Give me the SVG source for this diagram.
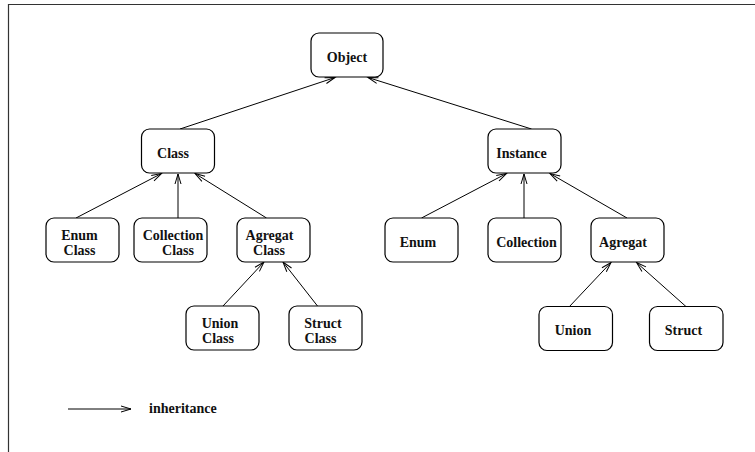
<svg xmlns="http://www.w3.org/2000/svg" width="755" height="452" viewBox="0 0 755 452">
<style>
.box{fill:#fff;stroke:#000;stroke-width:1.2}
.lbl{font-family:"Liberation Serif","Times New Roman",serif;font-weight:bold;font-size:14px;fill:#111;text-anchor:middle}
.edge{stroke:#000;stroke-width:1;fill:none;marker-end:url(#arr)}
</style>
<defs>
<marker id="arr" markerUnits="userSpaceOnUse" markerWidth="14" markerHeight="10" refX="11" refY="4" orient="auto">
<path d="M1,1 L11,4 L1,7" fill="none" stroke="#000" stroke-width="1"/>
</marker>
</defs>
<rect width="755" height="452" fill="#fff"/>
<path d="M8.5,452 V4.5 H755" fill="none" stroke="#333" stroke-width="1.2"/>
<g id="connectors">
<line class="edge" x1="180" y1="129" x2="335" y2="77.5"/>
<line class="edge" x1="531.5" y1="129" x2="368" y2="77.5"/>
<line class="edge" x1="76" y1="218" x2="161.5" y2="173.5"/>
<line class="edge" x1="178" y1="218" x2="178" y2="174"/>
<line class="edge" x1="266.5" y1="218" x2="195" y2="173.5"/>
<line class="edge" x1="223" y1="306" x2="264" y2="262"/>
<line class="edge" x1="317.5" y1="306" x2="283" y2="262"/>
<line class="edge" x1="421.5" y1="218" x2="506.5" y2="173.5"/>
<line class="edge" x1="524" y1="218" x2="524" y2="174"/>
<line class="edge" x1="627" y1="218" x2="550" y2="173.5"/>
<line class="edge" x1="569" y1="307" x2="611" y2="262.5"/>
<line class="edge" x1="686.5" y1="307" x2="636.5" y2="262.5"/>
</g>
<g id="object"><rect class="box" x="311" y="33" width="72" height="44" rx="8"/><text class="lbl" x="347" y="62">Object</text></g>
<g id="class"><rect class="box" x="141.5" y="129" width="73" height="44" rx="8"/><text class="lbl" x="173" y="158">Class</text></g>
<g id="instance"><rect class="box" x="488" y="129" width="73" height="44" rx="8"/><text class="lbl" x="521.5" y="158">Instance</text></g>
<g id="enum-class"><rect class="box" x="46" y="218" width="73" height="44" rx="8"/><text class="lbl" x="79.5" y="240">Enum</text><text class="lbl" x="79.5" y="255">Class</text></g>
<g id="collection-class"><rect class="box" x="134" y="218" width="73" height="44" rx="8"/><text class="lbl" x="173" y="240">Collection</text><text class="lbl" x="178" y="255">Class</text></g>
<g id="agregat-class"><rect class="box" x="237" y="218" width="73" height="44" rx="8"/><text class="lbl" x="269.5" y="240">Agregat</text><text class="lbl" x="269" y="255">Class</text></g>
<g id="union-class"><rect class="box" x="186" y="306" width="73" height="44" rx="8"/><text class="lbl" x="220" y="328">Union</text><text class="lbl" x="218" y="343">Class</text></g>
<g id="struct-class"><rect class="box" x="289" y="306" width="73" height="44" rx="8"/><text class="lbl" x="323" y="328">Struct</text><text class="lbl" x="320.5" y="343">Class</text></g>
<g id="enum"><rect class="box" x="385" y="218" width="73" height="44" rx="8"/><text class="lbl" x="418" y="247">Enum</text></g>
<g id="collection"><rect class="box" x="488" y="218" width="73" height="44" rx="8"/><text class="lbl" x="526.5" y="247">Collection</text></g>
<g id="agregat"><rect class="box" x="591" y="218" width="73" height="44" rx="8"/><text class="lbl" x="623" y="247">Agregat</text></g>
<g id="union"><rect class="box" x="539" y="306.5" width="73.5" height="44" rx="8"/><text class="lbl" x="573" y="335">Union</text></g>
<g id="struct"><rect class="box" x="649.5" y="306.5" width="73.5" height="44" rx="8"/><text class="lbl" x="683.5" y="335">Struct</text></g>
<g id="legend"><line class="edge" x1="68" y1="409" x2="131" y2="409"/><text class="lbl" x="149" y="413" style="text-anchor:start">inheritance</text></g>
</svg>
